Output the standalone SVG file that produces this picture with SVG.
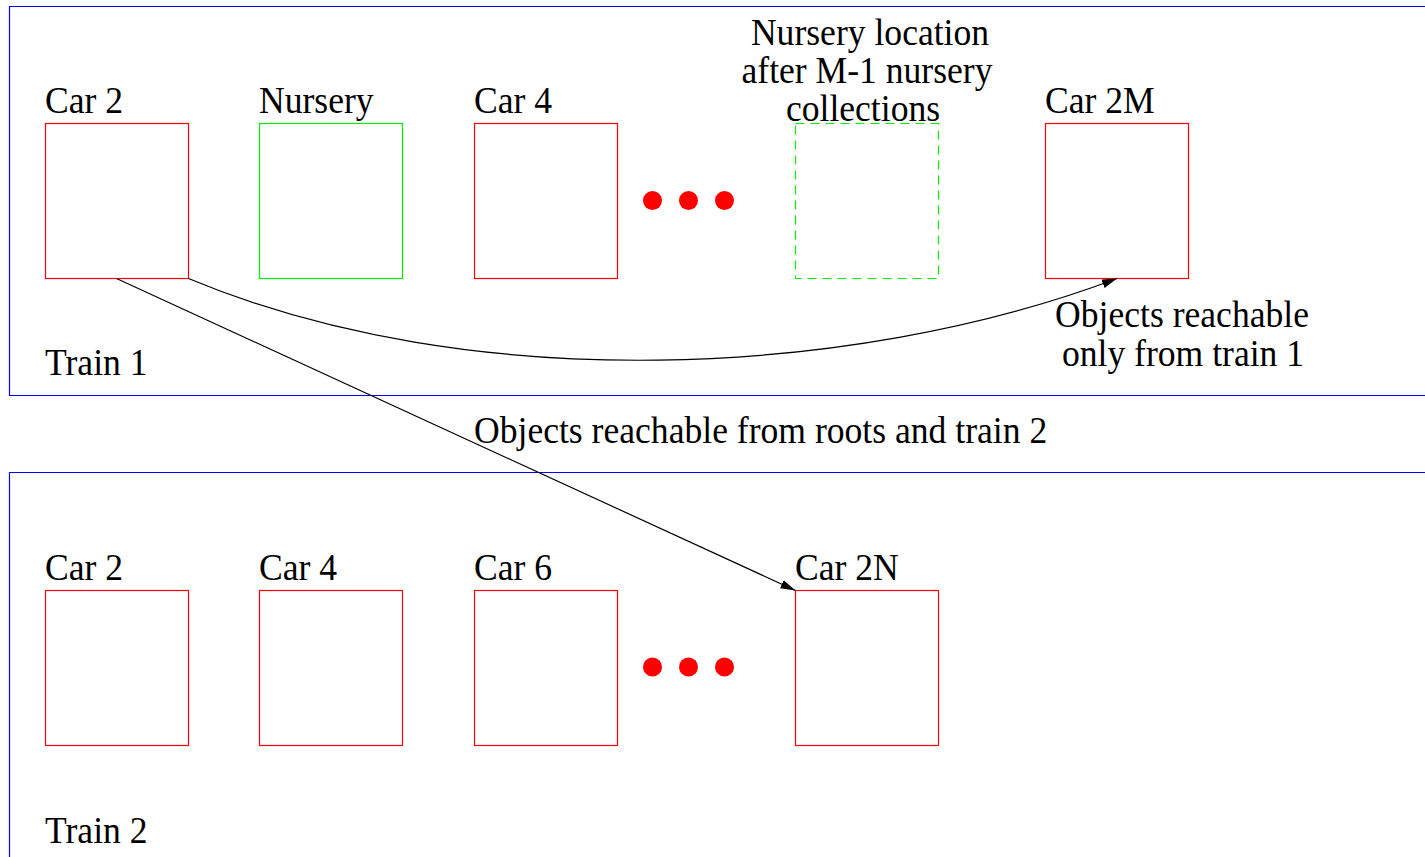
<svg xmlns="http://www.w3.org/2000/svg" width="1425" height="857" viewBox="0 0 1425 857">
  <style>
    .frame { fill: none; stroke: #0000ff; stroke-width: 1.2; }
    .car { fill: none; stroke: #ff0000; stroke-width: 1.2; }
    .nursery { fill: none; stroke: #00ee00; stroke-width: 1.2; }
    .nursery-future { fill: none; stroke: #00ee00; stroke-width: 1.2; stroke-dasharray: 9 6; }
    .dot { fill: #ff0000; }
    .lbl { font-family: "Liberation Serif", "Times New Roman", serif; font-size: 35.6px; fill: #000000; }
    .mid { text-anchor: middle; }
    .conn { fill: none; stroke: #000000; stroke-width: 1.2; }
  </style>
  <defs>
    <marker id="arrow" viewBox="0 0 15 9" refX="15" refY="4.5" markerWidth="15" markerHeight="9" markerUnits="userSpaceOnUse" orient="auto">
      <path d="M0,0 L15,4.5 L0,9 Z" fill="#000000"/>
    </marker>
  </defs>

  <rect width="1425" height="857" fill="#ffffff"/>

  <!-- train 1 -->
  <g id="train1">
    <path class="frame" d="M1430,6.5 H9.5 V395.5 H1430"/>
    <text class="lbl" transform="translate(45,375) scale(1,1.07)">Train 1</text>
  </g>

  <g id="t1-car2">
    <rect class="car" x="45.5" y="123.5" width="143" height="155"/>
    <text class="lbl" transform="translate(45,113) scale(1,1.07)">Car 2</text>
  </g>
  <g id="t1-nursery">
    <rect class="nursery" x="259.5" y="123.5" width="143" height="155"/>
    <text class="lbl" transform="translate(259,113) scale(1,1.07)">Nursery</text>
  </g>
  <g id="t1-car4">
    <rect class="car" x="474.5" y="123.5" width="143" height="155"/>
    <text class="lbl" transform="translate(474,113) scale(1,1.07)">Car 4</text>
  </g>
  <g id="t1-ellipsis">
    <circle class="dot" cx="652.5" cy="200.5" r="9.5"/>
    <circle class="dot" cx="688.5" cy="200.5" r="9.5"/>
    <circle class="dot" cx="724.5" cy="200.5" r="9.5"/>
  </g>
  <g id="t1-nursery-later">
    <rect class="nursery-future" x="795.5" y="123.5" width="143" height="155"/>
    <text class="lbl mid" transform="translate(870,45) scale(1,1.07)">Nursery location</text>
    <text class="lbl mid" transform="translate(867,83) scale(1,1.07)">after M-1 nursery</text>
    <text class="lbl mid" transform="translate(863,121) scale(1,1.07)">collections</text>
  </g>
  <g id="t1-car2m">
    <rect class="car" x="1045.5" y="123.5" width="143" height="155"/>
    <text class="lbl" transform="translate(1045,113) scale(1,1.07)">Car 2M</text>
  </g>

  <!-- train 2 -->
  <g id="train2">
    <path class="frame" d="M1430,472.5 H9.5 V860"/>
    <text class="lbl" transform="translate(45,843) scale(1,1.07)">Train 2</text>
  </g>

  <g id="t2-car2">
    <rect class="car" x="45.5" y="590.5" width="143" height="155"/>
    <text class="lbl" transform="translate(45,580) scale(1,1.07)">Car 2</text>
  </g>
  <g id="t2-car4">
    <rect class="car" x="259.5" y="590.5" width="143" height="155"/>
    <text class="lbl" transform="translate(259,580) scale(1,1.07)">Car 4</text>
  </g>
  <g id="t2-car6">
    <rect class="car" x="474.5" y="590.5" width="143" height="155"/>
    <text class="lbl" transform="translate(474,580) scale(1,1.07)">Car 6</text>
  </g>
  <g id="t2-ellipsis">
    <circle class="dot" cx="652.5" cy="667" r="9.5"/>
    <circle class="dot" cx="688.5" cy="667" r="9.5"/>
    <circle class="dot" cx="724.5" cy="667" r="9.5"/>
  </g>
  <g id="t2-car2n">
    <rect class="car" x="795.5" y="590.5" width="143" height="155"/>
    <text class="lbl" transform="translate(795,580) scale(1,1.07)">Car 2N</text>
  </g>

  <!-- references between cars -->
  <g id="connectors">
    <path class="conn" d="M188.5,278.5 C468.5,395.8 851.5,378.9 1117,278.5" marker-end="url(#arrow)"/>
    <line class="conn" x1="116.5" y1="278.5" x2="795.5" y2="590.5" marker-end="url(#arrow)"/>
    <text class="lbl mid" transform="translate(1182,327) scale(1,1.07)">Objects reachable</text>
    <text class="lbl mid" transform="translate(1183,366) scale(1,1.07)">only from train 1</text>
    <text class="lbl" transform="translate(474,443) scale(1,1.07)">Objects reachable from roots and train 2</text>
  </g>
</svg>
